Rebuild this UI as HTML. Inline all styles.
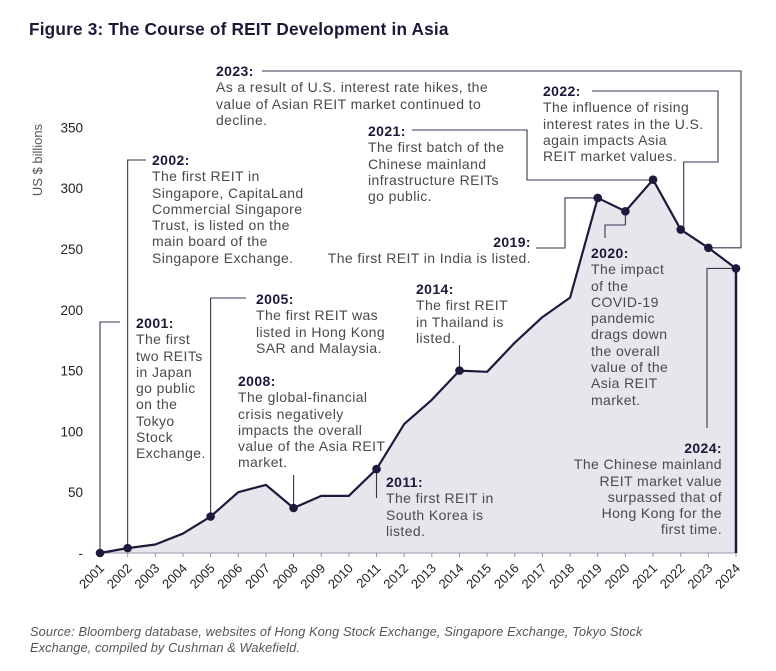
<!DOCTYPE html>
<html><head><meta charset="utf-8">
<style>
body{margin:0;background:#fff;width:776px;height:671px;overflow:hidden;position:relative;font-family:"Liberation Sans",sans-serif}
.t{position:absolute;font-size:14px;line-height:16.3px;color:#4a4a4a;letter-spacing:0.4px;white-space:nowrap}
.t b{color:#1c1838;display:block}
#title{position:absolute;left:29px;top:19px;font-size:17.2px;font-weight:bold;color:#1c1838;letter-spacing:0.2px}
#src{position:absolute;left:30px;top:624px;font-size:12.8px;line-height:16px;font-style:italic;color:#555;letter-spacing:0.1px;white-space:nowrap}
svg{position:absolute;left:0;top:0}
</style></head><body>
<div id="title">Figure 3: The Course of REIT Development in Asia</div>
<svg id="chart" width="776" height="671"></svg>

<div class="t" style="left:216px;top:63px"><b>2023:</b>As a result of U.S. interest rate hikes, the<br>value of Asian REIT market continued to<br>decline.</div>
<div class="t" style="left:543px;top:83px"><b>2022:</b>The influence of rising<br>interest rates in the U.S.<br>again impacts Asia<br>REIT market values.</div>
<div class="t" style="left:368px;top:123px"><b>2021:</b>The first batch of the<br>Chinese mainland<br>infrastructure REITs<br>go public.</div>
<div class="t" style="left:300px;top:234px;text-align:right;width:231px"><b>2019:</b>The first REIT in India is listed.</div>
<div class="t" style="left:591px;top:245px"><b>2020:</b>The impact<br>of the<br>COVID-19<br>pandemic<br>drags down<br>the overall<br>value of the<br>Asia REIT<br>market.</div>
<div class="t" style="left:540px;top:440px;text-align:right;width:182px"><b>2024:</b>The Chinese mainland<br>REIT market value<br>surpassed that of<br>Hong Kong for the<br>first time.</div>
<div class="t" style="left:416px;top:281px"><b>2014:</b>The first REIT<br>in Thailand is<br>listed.</div>
<div class="t" style="left:386px;top:474px"><b>2011:</b>The first REIT in<br>South Korea is<br>listed.</div>
<div class="t" style="left:238px;top:373px"><b>2008:</b>The global-financial<br>crisis negatively<br>impacts the overall<br>value of the Asia REIT<br>market.</div>
<div class="t" style="left:256px;top:291px"><b>2005:</b>The first REIT was<br>listed in Hong Kong<br>SAR and Malaysia.</div>
<div class="t" style="left:152px;top:152px"><b>2002:</b>The first REIT in<br>Singapore, CapitaLand<br>Commercial Singapore<br>Trust, is listed on the<br>main board of the<br>Singapore Exchange.</div>
<div class="t" style="left:136px;top:315px"><b>2001:</b>The first<br>two REITs<br>in Japan<br>go public<br>on the<br>Tokyo<br>Stock<br>Exchange.</div>

<div id="src">Source: Bloomberg database, websites of Hong Kong Stock Exchange, Singapore Exchange, Tokyo Stock<br>Exchange, compiled by Cushman &amp; Wakefield.</div>

<script>
const years = ["2001","2002","2003","2004","2005","2006","2007","2008","2009","2010","2011","2012","2013","2014","2015","2016","2017","2018","2019","2020","2021","2022","2023","2024"];
const values = [0,4,7,16,30,50,56,37,47,47,69,106,126,150,149,173,194,210,292,281,307,266,251,234];
const yTicks = [0,50,100,150,200,250,300,350];
const yTickLabels = ["-","50","100","150","200","250","300","350"];
const markedYears = ["2001","2002","2005","2008","2011","2014","2019","2020","2021","2022","2023","2024"];

const NS="http://www.w3.org/2000/svg";
const svg=document.getElementById('chart');
const x0=100, x1=736, yBase=553, pxPerUnit=1.216;
function xs(i){return x0+i*(x1-x0)/(years.length-1);}
function ys(v){return yBase-v*pxPerUnit;}
function mk(tag,attrs){const e=document.createElementNS(NS,tag);for(const k in attrs)e.setAttribute(k,attrs[k]);svg.appendChild(e);return e;}
const navy="#1f1a3d";

let d="M"+xs(0)+","+yBase;
values.forEach((v,i)=>{d+=" L"+xs(i)+","+ys(v);});
d+=" L"+xs(values.length-1)+","+yBase+" Z";
const area=mk('path',{d:d,fill:"#e7e6ec",stroke:"none"});


const ax=mk('line',{x1:x0,y1:yBase,x2:x1,y2:yBase,stroke:"#9a98a8","stroke-width":1});


const re=mk('line',{x1:x1,y1:yBase,x2:x1,y2:ys(values[values.length-1]),stroke:navy,"stroke-width":2.5});


let ld="";
values.forEach((v,i)=>{ld+=(i?" L":"M")+xs(i)+","+ys(v);});
const ln=mk('path',{d:ld,fill:"none",stroke:navy,"stroke-width":2.2,"stroke-linejoin":"round"});



years.forEach((y,i)=>{
  const tk=mk('line',{x1:xs(i),y1:yBase,x2:xs(i),y2:yBase+4,stroke:"#9a98a8"});
  
  
  const t=mk('text',{x:xs(i)+5,y:yBase+16,"text-anchor":"end","font-size":"13","fill":"#222","font-family":"Liberation Sans, sans-serif",transform:"rotate(-45 "+(xs(i)+5)+" "+(yBase+16)+")"});
  t.textContent=y;
  
  
});
yTicks.forEach((v,i)=>{
  const t=mk('text',{x:83,y:ys(v)+5,"text-anchor":"end","font-size":"13.5","fill":"#222","font-family":"Liberation Sans, sans-serif"});
  t.textContent=yTickLabels[i];
  
  
});
const yt=mk('text',{x:42,y:160,"text-anchor":"middle","font-size":"13","fill":"#555","font-family":"Liberation Sans, sans-serif",transform:"rotate(-90 42 160)"});
yt.textContent="US $ billions";



function P(yr){const i=years.indexOf(yr);return [xs(i),ys(values[i])];}
const conns={
 "2001":p=>[[120,322],[p[0],322],p],
 "2002":p=>[[146,160],[p[0],160],p],
 "2005":p=>[[246,298],[p[0],298],p],
 "2008":p=>[[p[0],475],p],
 "2011":p=>[[p[0],498],p],
 "2014":p=>[[p[0],345],p],
 "2019":p=>[[536,248],[565,248],[565,p[1]],p],
 "2020":p=>[[605,238],[605,225],[p[0],225],p],
 "2021":p=>[[412,130],[527,130],[527,180],[p[0],180]],
 "2022":p=>[[592,91],[718,91],[718,162],[p[0]+3,162],[p[0]+3,p[1]]],
 "2023":p=>[[262,71],[741,71],[741,p[1]],p],
 "2024":p=>[[707,428],[707,p[1]],p]
};
for(const yr in conns){
  const pts=conns[yr](P(yr));
  const c=mk('polyline',{points:pts.map(q=>q.join(",")).join(" "),fill:"none",stroke:"#3a3650","stroke-width":1.1});
  
  
}
markedYears.forEach(yr=>{
  const p=P(yr);
  const c=mk('circle',{cx:p[0],cy:p[1],r:4.3,fill:navy});
  
  
});
</script>
</body></html>
